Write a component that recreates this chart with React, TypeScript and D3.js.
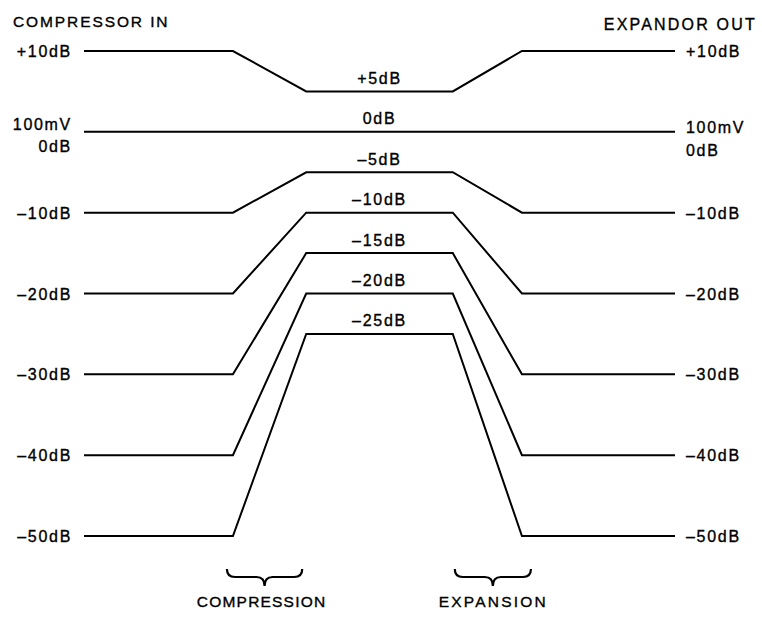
import React from "react";
import * as d3 from "d3";

// Data: input levels (dB) and corresponding compressed levels (dB)
const inputLevels = [10, 0, -10, -20, -30, -40, -50];
const compressedLevels = [5, 0, -5, -10, -15, -20, -25];
const sideLabels = ["+10dB", "100mV", "–10dB", "–20dB", "–30dB", "–40dB", "–50dB"];
const midLabels = ["+5dB", "0dB", "–5dB", "–10dB", "–15dB", "–20dB", "–25dB"];
// Stage positions along signal path (fraction of path)
const stages = [0, 0.252, 0.376, 0.624, 0.741, 1];

const W = 762;
const H = 617;

function bracePath(x1: number, x2: number, y0: number) {
  const xm = (x1 + x2) / 2;
  const y1 = y0 + 8;
  const y2 = y0 + 17;
  const r = 8;
  return `M${x1},${y0} Q${x1},${y1} ${x1 + r},${y1} L${xm - r},${y1} Q${xm},${y1} ${xm},${y2} Q${xm},${y1} ${xm + r},${y1} L${x2 - r},${y1} Q${x2},${y1} ${x2},${y0}`;
}

export default function App() {
  const x = d3.scaleLinear().domain([0, 1]).range([84, 675]);
  const y = d3.scaleLinear().domain([10, -50]).range([51, 536]);
  const line = d3
    .line<[number, number]>()
    .x((d) => x(d[0]))
    .y((d) => y(d[1]));

  const font = "'Liberation Sans', Arial, Helvetica, sans-serif";
  const ls = 1.7;
  const fs = 16;
  const tStroke = { stroke: "#000", strokeWidth: 0.35 };

  return (
    <svg
      width={W}
      height={H}
      style={{ position: "absolute", left: 0, top: 0, background: "#fff" }}
      fontFamily={font}
    >
      <rect width={W} height={H} fill="#fff" />
      {inputLevels.map((v, i) => {
        const c = compressedLevels[i];
        const pts: [number, number][] = [
          [stages[0], v],
          [stages[1], v],
          [stages[2], c],
          [stages[3], c],
          [stages[4], v],
          [stages[5], v],
        ];
        return (
          <path
            key={i}
            d={line(pts) || ""}
            fill="none"
            stroke="#000"
            strokeWidth={2}
            strokeLinejoin="miter"
          />
        );
      })}
      {/* side labels */}
      {inputLevels.map((v, i) => (
        <g key={"s" + i} fontSize={fs} letterSpacing={ls} fill="#000" {...tStroke}>
          <text x={72} y={v === 0 ? y(v) - 2 : y(v) + 6} textAnchor="end">
            {sideLabels[i]}
          </text>
          <text x={686} y={v === 0 ? y(v) + 1 : y(v) + 6}>
            {sideLabels[i]}
          </text>
          {v === 0 && (
            <>
              <text x={72} y={y(v) + 20} textAnchor="end">
                0dB
              </text>
              <text x={686} y={y(v) + 24}>
                0dB
              </text>
            </>
          )}
        </g>
      ))}
      {/* middle labels */}
      {compressedLevels.map((c, i) => (
        <text
          key={"m" + i}
          x={(x(stages[2]) + x(stages[3])) / 2}
          y={y(c) - 7.5}
          textAnchor="middle"
          fontSize={fs}
          letterSpacing={ls}
          {...tStroke}
        >
          {midLabels[i]}
        </text>
      ))}
      <text x={13} y={27} fontSize={15.5} letterSpacing={1.9} {...tStroke}>
        COMPRESSOR IN
      </text>
      <text x={757} y={30} fontSize={16} letterSpacing={2.2} textAnchor="end" {...tStroke}>
        EXPANDOR OUT
      </text>
      <path d={bracePath(x(stages[1]) - 6, x(stages[2]) - 4, 569)} fill="none" stroke="#000" strokeWidth={2.2} />
      <path d={bracePath(x(stages[3]) + 2, x(stages[4]) + 9, 569)} fill="none" stroke="#000" strokeWidth={2.2} />
      <text x={(x(stages[1]) + x(stages[2])) / 2 - 8} y={607} textAnchor="middle" fontSize={15.5} letterSpacing={1.2} {...tStroke}>
        COMPRESSION
      </text>
      <text x={(x(stages[3]) + x(stages[4])) / 2 + 6} y={607} textAnchor="middle" fontSize={15.5} letterSpacing={2.2} {...tStroke}>
        EXPANSION
      </text>
    </svg>
  );
}
